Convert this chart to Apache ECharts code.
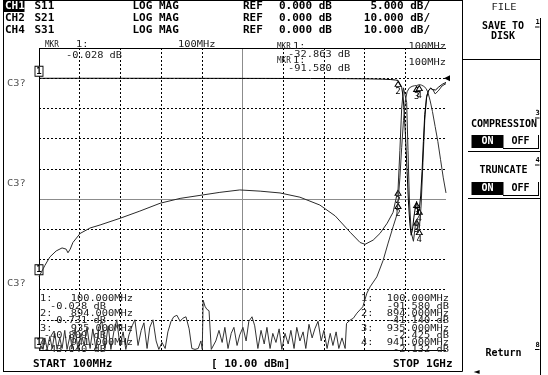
<!DOCTYPE html>
<html><head><meta charset="utf-8">
<script src="https://cdn.jsdelivr.net/npm/echarts/dist/echarts.min.js"></script>
<style>html,body{margin:0;padding:0;background:#fff;overflow:hidden}#c{width:548px;height:375px}</style>
</head><body><div id="c"></div>
<script>
// ---------- data ----------
const startMHz = 100, stopMHz = 1000;
const headerRows = [
  ['CH1', 'S11', 'LOG MAG', 'REF', '0.000 dB', '5.000 dB/'],
  ['CH2', 'S21', 'LOG MAG', 'REF', '0.000 dB', '10.000 dB/'],
  ['CH4', 'S31', 'LOG MAG', 'REF', '0.000 dB', '10.000 dB/']
];
// S11: 5 dB/div, S21/S31: 10 dB/div, ref 0 dB one division below top
const s11Axis = [-45, 5, 5];
const s2xAxis = [-90, 10, 10];

const s11Trace = [[100,-32.863],[113,-31.0],[124,-29.6],[138,-28.6],[151,-28.1],[160,-28.3],[164,-28.9],[169,-28.3],[175,-27.2],[191,-25.7],[213,-24.8],[235,-24.3],[279,-23.2],[323,-22.0],[368,-20.7],[412,-19.9],[456,-19.4],[500,-18.9],[544,-18.5],[589,-18.7],[633,-19.0],[677,-19.7],[721,-21.0],[755,-22.8],[788,-25.5],[810,-27.2],[821,-27.5],[839,-26.8],[854,-25.7],[870,-24.0],[883,-22.2],[894,-18.4],[898,-12],[902,-5],[906,-1.6],[910,-1.3],[913,-4],[916,-12],[919,-20],[923,-25.5],[928,-27],[932,-24.5],[935,-23.3],[938,-25.6],[941,-24.9],[945,-21],[949,-14],[953,-7],[957,-3],[961,-2.1],[966,-1.6],[971,-1.9],[976,-2.6],[983,-2.1],[991,-1.3],[1000,-0.9]];

const s21Trace = [[100,-0.028],[200,-0.02],[300,-0.03],[400,-0.04],[500,-0.05],[600,-0.07],[700,-0.1],[780,-0.15],[830,-0.22],[860,-0.32],[878,-0.45],[888,-0.6],[894,-0.731],[898,-1.3],[902,-3],[905,-6],[908,-12],[911,-21],[914,-31],[917,-41],[920,-48],[923,-52],[926,-50],[929,-46],[932,-43],[935,-40.809],[938,-45],[941,-43.04],[944,-39],[947,-31],[950,-21],[953,-12],[957,-6.5],[961,-4.2],[966,-3.4],[971,-3.8],[977,-3.9],[984,-2.9],[992,-2],[1000,-1.4]];

const s31Trace = [[100,-91.58],[104,-88.5],[109,-89.8],[113,-86],[118,-89.8],[124,-85.5],[129,-89.5],[135,-84.5],[140,-89.8],[146,-86],[151,-89.5],[157,-83.5],[162,-89.8],[169,-85],[173,-89.5],[180,-83],[186,-89.8],[193,-84.5],[200,-88.5],[206,-82.5],[213,-89.5],[219,-83],[226,-89.8],[233,-82],[239,-80.5],[246,-89.5],[253,-82],[259,-89.8],[266,-83.5],[272,-80],[279,-88.5],[286,-84],[292,-89.8],[299,-85],[306,-82],[312,-80],[319,-88.5],[326,-83.5],[332,-81],[339,-89.5],[345,-82.5],[352,-80],[359,-87],[365,-89.8],[372,-87.5],[379,-89.5],[385,-84],[392,-80.5],[398,-79],[405,-78.5],[412,-80.5],[418,-79.5],[425,-79],[432,-83],[438,-89.5],[445,-89.8],[452,-89.5],[458,-87],[461,-89.8],[463,-73.5],[467,-75.5],[471,-76.5],[476,-77],[479,-77.5],[481,-89.8],[491,-87],[498,-83.5],[505,-87.5],[511,-82.5],[518,-89.5],[525,-84.5],[531,-82.5],[538,-88.5],[544,-85],[551,-82.5],[558,-87],[564,-80.5],[571,-79],[577,-82],[584,-89.5],[591,-83.5],[598,-88],[604,-82.5],[611,-89.5],[617,-84.5],[624,-87.5],[631,-83],[637,-89.8],[644,-84.5],[651,-88],[657,-83.5],[664,-89.5],[670,-82.5],[677,-87],[684,-84],[690,-89.5],[697,-81.5],[704,-86],[710,-83],[717,-80.5],[724,-87],[730,-83.5],[737,-89.5],[744,-84.5],[750,-88.5],[757,-84],[763,-89.5],[770,-86],[777,-89.5],[780,-81.2],[788,-80.1],[795,-79.5],[803,-77.8],[816,-75.7],[825,-71.2],[832,-69.1],[847,-65.8],[861,-60.3],[872,-54.6],[883,-49.2],[891,-45.4],[894,-41.14],[898,-33],[902,-23],[906,-14],[910,-7.5],[914,-4.5],[919,-3.2],[925,-2.7],[930,-2.5],[935,-2.425],[938,-2.2],[941,-2.132],[946,-2.3],[951,-2.7],[956,-3.4],[960,-4.7],[965,-7.5],[970,-11],[976,-16],[982,-21],[988,-27],[994,-33],[1000,-38]];

const markerFreqs = [100, 894, 935, 941];
const s11Markers = [-32.863, -18.4, -23.3, -24.9];
const s21Markers = [-0.028, -0.731, -40.809, -43.040];
const s31Markers = [-91.580, -41.140, -2.425, -2.132];
const startLabel = 'START 100MHz', stopLabel = 'STOP 1GHz', powerLabel = '[ 10.00 dBm]';

// ---------- helpers ----------
const F_HDR = 'bold 11px "DejaVu Sans Mono"';
const F_KEY = 'bold 10px "DejaVu Sans Mono"';
const F_GR = '9px "DejaVu Sans Mono"';
const G = [];
function T(s, x, y, o) {
  o = o || {};
  G.push({type:'text', x:x, y:y, scaleX:o.sx||1, z:o.z||20, silent:true,
    style:{text:s, x:0, y:0, font:o.font||F_GR, fill:o.fill||'#000', align:o.align||'left', verticalAlign:'middle'}});
}
function L(x1,y1,x2,y2,o){ o=o||{}; G.push({type:'line', silent:true, z:o.z||15, shape:{x1:x1,y1:y1,x2:x2,y2:y2}, style:{stroke:o.c||'#000', lineWidth:o.w||1}}); }
function R(x,y,w,h,o){ o=o||{}; G.push({type:'rect', silent:true, z:o.z||15, shape:{x:x,y:y,width:w,height:h}, style:{fill:o.fill||'none', stroke:o.stroke||null, lineWidth:1}}); }
const fmt = v => v.toFixed(3);
const fmtMHz = f => f.toFixed(3) + 'MHz';

// header
const rowsY = [6.5, 18.5, 30.5];
R(3.5, 1, 21, 11, {fill:'#000'});
headerRows.forEach((r, i) => {
  const y = rowsY[i];
  T(r[0], 5, y, {font:F_HDR, fill: i===0 ? '#fff' : '#000', z:25});
  T(r[1], 34.5, y, {font:F_HDR});
  T(r[2], 132.5, y, {font:F_HDR});
  T(r[3], 243, y, {font:F_HDR});
  T(r[4], 279, y, {font:F_HDR});
  T(r[5], 430, y, {font:F_HDR, align:'right'});
});
// frame
L(3.5, 0.5, 462.5, 0.5);
L(3.5, 0, 3.5, 371.5);
L(3, 371.5, 462.5, 371.5);
L(462.5, 0, 462.5, 371.5);
// graticule annotations
const GS = 1.15, GC = '#222', MS = 0.85;
T('MKR', 45, 45, {sx:MS, fill:GC}); T('1:', 76, 45, {sx:GS, fill:GC});
T(fmt(s21Markers[0]) + ' dB', 66, 55.5, {sx:GS, fill:GC});
T(markerFreqs[0] + 'MHz', 178, 45, {sx:GS, fill:GC});
T('MKR', 277, 47, {sx:MS, fill:GC}); T('1:', 293, 47, {sx:GS, fill:GC});
T(fmt(s11Markers[0]) + ' dB', 288, 54.5, {sx:GS, fill:GC});
T('MKR', 277, 61, {sx:MS, fill:GC}); T('1:', 293, 61, {sx:GS, fill:GC});
T(fmt(s31Markers[0]) + ' dB', 288, 69, {sx:GS, fill:GC});
T(markerFreqs[0] + 'MHz', 446, 47, {sx:GS, fill:GC, align:'right'});
T(markerFreqs[0] + 'MHz', 446, 62.5, {sx:GS, fill:GC, align:'right'});
[84, 184, 283.5].forEach(y => T('C3?', 7, y, {sx:GS, fill:'#555'}));
// marker lists
const listY = [299, 306.3, 313.6, 320.9, 328.2, 335.5, 342.8, 350.1];
markerFreqs.forEach((f, i) => {
  T((i+1) + ':', 40, listY[2*i], {sx:GS, fill:GC});
  T(fmtMHz(f), 133, listY[2*i], {sx:GS, fill:GC, align:'right'});
  T(fmt(s21Markers[i]) + ' dB', 106, listY[2*i+1], {sx:GS, fill:GC, align:'right'});
  T((i+1) + ':', 361, listY[2*i], {sx:GS, fill:GC});
  T(fmtMHz(f), 449, listY[2*i], {sx:GS, fill:GC, align:'right'});
  T(fmt(s31Markers[i]) + ' dB', 449, listY[2*i+1], {sx:GS, fill:GC, align:'right'});
});
// footer
T(startLabel, 33, 364, {font:F_HDR});
T(powerLabel, 211, 364, {font:F_HDR});
T(stopLabel, 393, 364, {font:F_HDR});
// softkeys
L(540.5, 18, 540.5, 375);
L(463, 59.5, 540.5, 59.5);
T('DATA', 504, -3, {sx:GS, fill:GC, align:'center'});
T('FILE', 504, 7.5, {sx:GS, fill:GC, align:'center'});
T('SAVE TO', 503, 26, {font:F_KEY, align:'center'});
T('DISK', 503, 36.5, {font:F_KEY, align:'center'});
T('COMPRESSION', 504, 124.5, {font:F_KEY, align:'center'});
T('TRUNCATE', 503.5, 170, {font:F_KEY, align:'center'});
T('Return', 503.5, 353.5, {font:F_KEY, align:'center'});
[[1,22.5],[3,113.5],[4,160.5],[8,345]].forEach(k => {
  T(String(k[0]), 537.5, k[1], {font:'bold 7px "DejaVu Sans Mono"', align:'center'});
  L(535, k[1]+4.5, 539.5, k[1]+4.5);
});
[135, 182].forEach(y => {
  R(471.5, y, 32, 13, {fill:'#000'});
  T('ON', 487.5, y+6.7, {font:F_KEY, fill:'#fff', align:'center', z:25});
  T('OFF', 520.5, y+6.7, {font:F_KEY, align:'center'});
  L(538.5, y, 538.5, y+14);
  L(503, y+13.5, 539, y+13.5);
  L(468, y+16.5, 540.5, y+16.5);
});
T('\u25C4', 473.5, 371.5, {font:'8px "DejaVu Sans"'});

// ---------- chart ----------
function mpData(vals, yMin) {
  return markerFreqs.map((f, i) => {
    const c = [f, Math.max(vals[i], yMin)];
    if (i === 0) return {coord:c, symbol:'rect', symbolSize:[8,10], symbolOffset:[0,-7],
      itemStyle:{color:'#fff', borderColor:'#000', borderWidth:1},
      label:{show:true, position:'inside', formatter:'1', color:'#000', fontSize:9, fontWeight:'bold', fontFamily:'DejaVu Sans Mono'}};
    return {coord:c, symbol:'triangle', symbolSize:[6,5], symbolOffset:[0,3.5],
      itemStyle:{color:'#fff', borderColor:'#000', borderWidth:1},
      label:{show:true, position:'bottom', distance:0, formatter:String(i+1), color:'#000', fontSize:9, fontFamily:'DejaVu Sans Mono'}};
  });
}
function trace(data, yIdx, color, marks, yMin) {
  return {type:'line', xAxisIndex:0, yAxisIndex:yIdx, data:data, symbol:'none', silent:true,
    lineStyle:{color:color, width:1}, z:5,
    markPoint:{silent:true, animation:false, data:mpData(marks, yMin)}};
}
const hidden = {show:false};
const gridLine = {show:true, showMinLine:false, showMaxLine:false, lineStyle:{color:'#000', type:[2,2], width:1}};
const option = {
  animation:false,
  grid:{left:39, top:48, width:407, height:302, show:false},
  xAxis:[
    {type:'value', min:startMHz, max:stopMHz, show:false},
    {type:'value', min:0, max:10, interval:1, axisLine:hidden, axisTick:hidden, axisLabel:hidden, splitLine:gridLine}
  ],
  yAxis:[
    {type:'value', min:s11Axis[0], max:s11Axis[1], interval:s11Axis[2], show:false},
    {type:'value', min:s2xAxis[0], max:s2xAxis[1], interval:s2xAxis[2], axisLine:hidden, axisTick:hidden, axisLabel:hidden, splitLine:gridLine}
  ],
  series:[
    {type:'line', xAxisIndex:1, yAxisIndex:1, data:[], silent:true,
      markLine:{silent:true, animation:false, symbol:'none', label:{show:false},
        data:[
          {xAxis:5, lineStyle:{color:'#8c8c8c', type:'solid', width:1}},
          {yAxis:-40, lineStyle:{color:'#8c8c8c', type:'solid', width:1}},
          {xAxis:0, lineStyle:{color:'#000', type:'solid', width:1}},
          {yAxis:10, lineStyle:{color:'#000', type:'solid', width:1}},
          {yAxis:-90, lineStyle:{color:'#000', type:'solid', width:1}}
        ]},
      markPoint:{silent:true, animation:false, data:[{coord:[10,0], symbol:'triangle', symbolRotate:90, symbolSize:6, symbolOffset:[1,0], itemStyle:{color:'#000'}, label:{show:false}}]}
    },
    trace(s11Trace, 0, '#2a2a2a', s11Markers, s11Axis[0]),
    trace(s21Trace, 1, '#000', s21Markers, s2xAxis[0]),
    trace(s31Trace, 1, '#333', s31Markers, s2xAxis[0])
  ],
  graphic:{elements:G}
};
const chart = echarts.init(document.getElementById('c'), null, {renderer:'canvas'});
chart.setOption(option);
</script></body></html>
